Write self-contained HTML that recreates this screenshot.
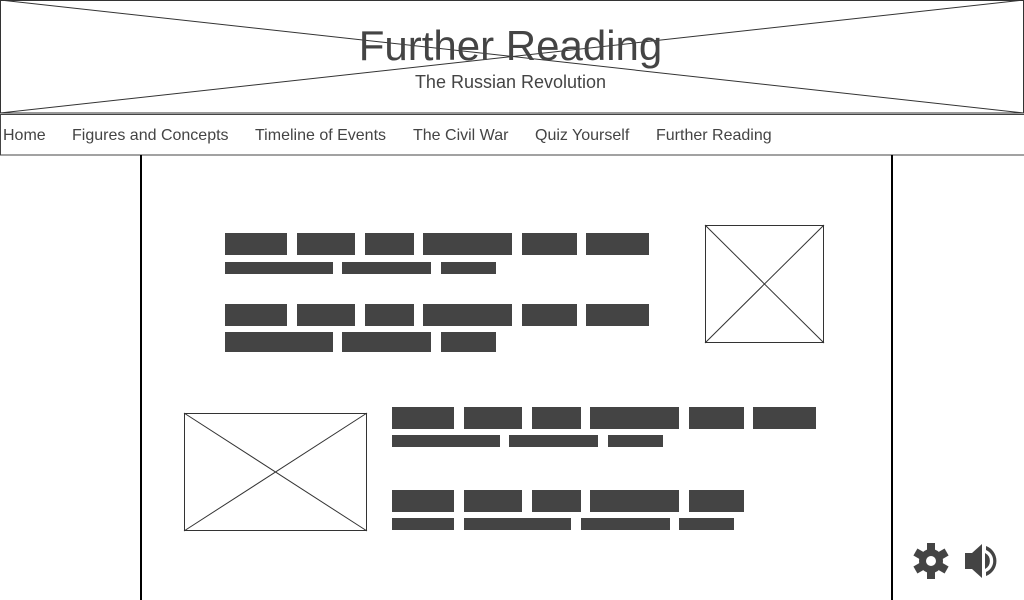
<!DOCTYPE html>
<html><head><style>
body{margin:0;width:1024px;height:600px;position:relative;background:#fff;font-family:"Liberation Sans",sans-serif;overflow:hidden}
.a{position:absolute}
.b{position:absolute;background:#444}
.n{position:absolute;top:127px;font-size:16px;color:#444}
</style></head><body>
<svg class="a" style="left:0;top:0" width="1024" height="600">
<rect x="0.5" y="0.5" width="1023" height="112.5" fill="none" stroke="#333"/>
<line x1="0" y1="0" x2="1024" y2="113" stroke="#333"/>
<line x1="1024" y1="0" x2="0" y2="113" stroke="#333"/>
<rect x="0.5" y="114.5" width="1024" height="40.5" fill="none" stroke="#444"/>
<line x1="141" y1="155" x2="141" y2="600" stroke="#000" stroke-width="2"/>
<line x1="892" y1="155" x2="892" y2="600" stroke="#000" stroke-width="2"/>
<rect x="705.5" y="225.5" width="118" height="117" fill="#fff" stroke="#333"/>
<line x1="705" y1="225" x2="824" y2="343" stroke="#333"/><line x1="824" y1="225" x2="705" y2="343" stroke="#333"/>
<rect x="184.5" y="413.5" width="182" height="117" fill="#fff" stroke="#333"/>
<line x1="184" y1="413" x2="367" y2="531" stroke="#333"/><line x1="367" y1="413" x2="184" y2="531" stroke="#333"/>
<g transform="translate(931,561)" fill="#444">
<circle r="12"/>
<g><rect x="-4" y="-18" width="8" height="36"/><rect x="-4" y="-18" width="8" height="36" transform="rotate(60)"/><rect x="-4" y="-18" width="8" height="36" transform="rotate(120)"/></g>
<circle r="5" fill="#fff"/>
</g>
<g fill="#444"><polygon points="965,553 972,553 982,544 982,578 972,569 965,569"/>
<path d="M985,553 A9,9 0 0 1 985,569 Z"/>
<path d="M986,546 A16,16 0 0 1 986,576 L986,572 A12,12 0 0 0 986,550 Z"/></g>
</svg>
<div class="a" style="left:0;width:1021px;top:22px;text-align:center;font-size:42px;color:#444">Further Reading</div>
<div class="a" style="left:0;width:1021px;top:72px;text-align:center;font-size:18px;color:#444">The Russian Revolution</div>
<div class="n" style="left:3px">Home</div>
<div class="n" style="left:72px">Figures and Concepts</div>
<div class="n" style="left:255px">Timeline of Events</div>
<div class="n" style="left:413px">The Civil War</div>
<div class="n" style="left:535px">Quiz Yourself</div>
<div class="n" style="left:656px">Further Reading</div>

<div class="b" style="left:225px;top:233px;width:62px;height:22px"></div>
<div class="b" style="left:297px;top:233px;width:58px;height:22px"></div>
<div class="b" style="left:365px;top:233px;width:49px;height:22px"></div>
<div class="b" style="left:423px;top:233px;width:89px;height:22px"></div>
<div class="b" style="left:522px;top:233px;width:55px;height:22px"></div>
<div class="b" style="left:586px;top:233px;width:63px;height:22px"></div>
<div class="b" style="left:225px;top:262px;width:108px;height:12px"></div>
<div class="b" style="left:342px;top:262px;width:89px;height:12px"></div>
<div class="b" style="left:441px;top:262px;width:55px;height:12px"></div>

<div class="b" style="left:225px;top:304px;width:62px;height:22px"></div>
<div class="b" style="left:297px;top:304px;width:58px;height:22px"></div>
<div class="b" style="left:365px;top:304px;width:49px;height:22px"></div>
<div class="b" style="left:423px;top:304px;width:89px;height:22px"></div>
<div class="b" style="left:522px;top:304px;width:55px;height:22px"></div>
<div class="b" style="left:586px;top:304px;width:63px;height:22px"></div>
<div class="b" style="left:225px;top:332px;width:108px;height:20px"></div>
<div class="b" style="left:342px;top:332px;width:89px;height:20px"></div>
<div class="b" style="left:441px;top:332px;width:55px;height:20px"></div>

<div class="b" style="left:392px;top:407px;width:62px;height:22px"></div>
<div class="b" style="left:464px;top:407px;width:58px;height:22px"></div>
<div class="b" style="left:532px;top:407px;width:49px;height:22px"></div>
<div class="b" style="left:590px;top:407px;width:89px;height:22px"></div>
<div class="b" style="left:689px;top:407px;width:55px;height:22px"></div>
<div class="b" style="left:753px;top:407px;width:63px;height:22px"></div>
<div class="b" style="left:392px;top:435px;width:108px;height:12px"></div>
<div class="b" style="left:509px;top:435px;width:89px;height:12px"></div>
<div class="b" style="left:608px;top:435px;width:55px;height:12px"></div>

<div class="b" style="left:392px;top:490px;width:62px;height:22px"></div>
<div class="b" style="left:464px;top:490px;width:58px;height:22px"></div>
<div class="b" style="left:532px;top:490px;width:49px;height:22px"></div>
<div class="b" style="left:590px;top:490px;width:89px;height:22px"></div>
<div class="b" style="left:689px;top:490px;width:55px;height:22px"></div>
<div class="b" style="left:392px;top:518px;width:62px;height:12px"></div>
<div class="b" style="left:464px;top:518px;width:107px;height:12px"></div>
<div class="b" style="left:581px;top:518px;width:89px;height:12px"></div>
<div class="b" style="left:679px;top:518px;width:55px;height:12px"></div>
</body></html>
